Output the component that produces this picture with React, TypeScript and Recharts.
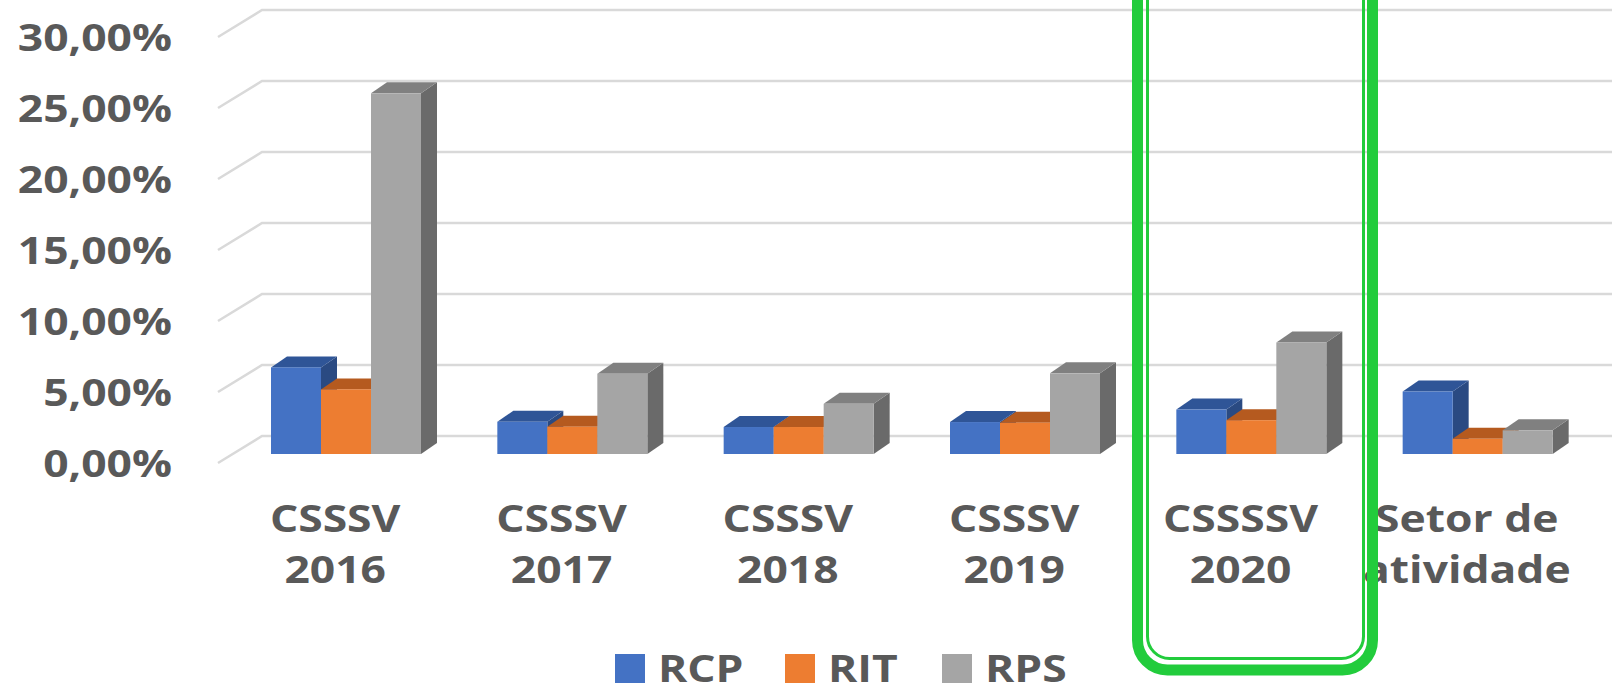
import React from 'react';
import { BarChart, Bar, XAxis, YAxis, CartesianGrid } from 'recharts';

const categories = ['CSSSV 2016', 'CSSSV 2017', 'CSSSV 2018', 'CSSSV 2019', 'CSSSSV 2020', 'Setor de atividade'];
const tickLabels = [
  ['CSSSV', '2016'],
  ['CSSSV', '2017'],
  ['CSSSV', '2018'],
  ['CSSSV', '2019'],
  ['CSSSSV', '2020'],
  ['Setor de', 'atividade'],
];
const rcp = [6.1, 2.27, 1.9, 2.25, 3.13, 4.4];
const rit = [4.55, 1.92, 1.9, 2.2, 2.38, 1.07];
const rps = [25.4, 5.65, 3.53, 5.68, 7.85, 1.67];
const yTicks = [0, 5, 10, 15, 20, 25, 30];
const seriesNames = ['RCP', 'RIT', 'RPS'];

const palette: Record<string, { front: string; top: string; side: string }> = {
  RCP: { front: '#4472C4', top: '#2F5597', side: '#2A4A82' },
  RIT: { front: '#ED7D31', top: '#B55A1F', side: '#A0501B' },
  RPS: { front: '#A5A5A5', top: '#808080', side: '#6A6A6A' },
};

const data = categories.map((c, i) => ({ name: c, RCP: rcp[i], RIT: rit[i], RPS: rps[i] }));

const FONT = '"Open Sans", sans-serif';
const TXT = '#595959';

const fmt = (v: number) => v.toFixed(2).replace('.', ',') + '%';

const make3D = (c: { front: string; top: string; side: string }) => (props: any) => {
  const { x, y, width, height } = props;
  if (height == null || isNaN(height)) return <g />;
  const dx = 16;
  const dy = 11;
  return (
    <g>
      <polygon
        points={`${x + width},${y} ${x + width + dx},${y - dy} ${x + width + dx},${y + height - dy} ${x + width},${y + height}`}
        fill={c.side}
      />
      <polygon points={`${x},${y} ${x + dx},${y - dy} ${x + width + dx},${y - dy} ${x + width},${y}`} fill={c.top} />
      <rect x={x} y={y} width={width} height={height} fill={c.front} />
    </g>
  );
};

const gridLine = (p: any) => {
  const y = p.y1;
  return (
    <polyline
      key={`grid-${p.index}-${y}`}
      points={`218,${y + 9} 262,${y - 18} 1612,${y - 18}`}
      fill="none"
      stroke="#D9D9D9"
      strokeWidth={2.5}
    />
  );
};

const YTick = (props: any) => {
  const { y, payload } = props;
  return (
    <g transform={`translate(172,${y + 22.5}) scale(1.2,1)`}>
      <text x={0} y={0} textAnchor="end" fontFamily={FONT} fontWeight={700} fontSize={37} fill={TXT}>
        {fmt(payload.value)}
      </text>
    </g>
  );
};

const XTick = (props: any) => {
  const { x, y, payload } = props;
  const idx = categories.indexOf(payload.value);
  const lines = tickLabels[idx] || [payload.value];
  return (
    <g>
      {lines.map((l, i) => (
        <g key={i} transform={`translate(${x - 11},${y + 78 + i * 51}) scale(1.2,1)`}>
          <text x={0} y={0} textAnchor="middle" fontFamily={FONT} fontWeight={700} fontSize={37} fill={TXT}>
            {l}
          </text>
        </g>
      ))}
    </g>
  );
};

export default function App() {
  return (
    <div style={{ position: 'absolute', left: 0, top: 0, width: 1612, height: 684, overflow: 'hidden', background: '#fff' }}>
      <BarChart
        width={1612}
        height={684}
        data={data}
        margin={{ top: 28, right: 21, bottom: 0, left: 0 }}
        barGap={0}
        barSize={50}
      >
        <CartesianGrid vertical={false} horizontal={gridLine} />
        <XAxis
          dataKey="name"
          axisLine={false}
          tickLine={false}
          tickSize={0}
          tickMargin={0}
          height={230}
          interval={0}
          tick={<XTick />}
        />
        <YAxis
          domain={[0, 30]}
          ticks={yTicks}
          axisLine={false}
          tickLine={false}
          width={233}
          tick={<YTick />}
        />
        {seriesNames.map((s) => (
          <Bar key={s} dataKey={s} isAnimationActive={false} fill={palette[s].front} shape={make3D(palette[s])} />
        ))}
      </BarChart>
      <div
        style={{
          position: 'absolute',
          left: 615,
          top: 643,
          display: 'flex',
          alignItems: 'center',
          fontFamily: FONT,
          fontWeight: 700,
          fontSize: 37,
          color: TXT,
          whiteSpace: 'nowrap',
        }}
      >
        {seriesNames.map((s) => (
          <div key={s} style={{ display: 'flex', alignItems: 'center', marginRight: 56 }}>
            <div style={{ width: 30, height: 29, background: palette[s].front, marginRight: 13 }} />
            <span style={{ display: 'inline-block', transform: 'scaleX(1.2)', transformOrigin: 'left center', lineHeight: '50px' }}>
              {s}
            </span>
          </div>
        ))}
      </div>
      <svg width={1612} height={684} style={{ position: 'absolute', left: 0, top: 0, pointerEvents: 'none' }}>
        <rect x={1137.5} y={-40} width={235} height={710} rx={30} ry={30} fill="none" stroke="#22CC3C" strokeWidth={11} />
        <rect x={1147.5} y={-40} width={216} height={698.5} rx={22} ry={22} fill="none" stroke="#22CC3C" strokeWidth={3} />
      </svg>
    </div>
  );
}
